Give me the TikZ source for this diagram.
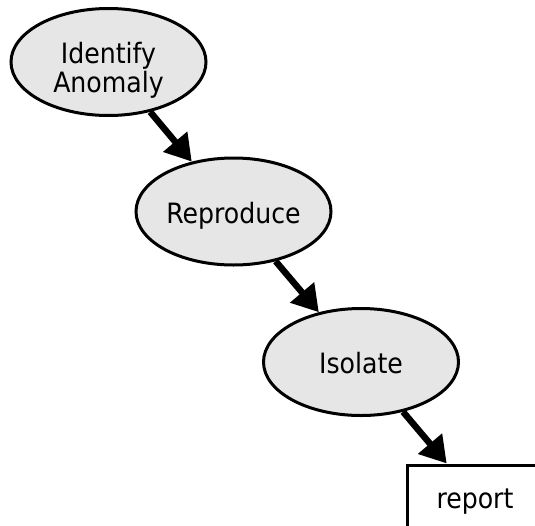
\documentclass[tikz,border=0pt]{standalone}
\usepackage{fontspec}
\setmainfont{DejaVu Sans Condensed}
\usetikzlibrary{shapes.geometric,arrows.meta}
\definecolor{nodefill}{RGB}{230,230,230}
\tikzset{
  stepell/.style={ellipse, draw=black, line width=3pt, fill=nodefill,
    minimum width=195pt, minimum height=107pt, inner sep=0pt,
    font=\fontsize{28}{29}\selectfont, align=center,
    text height=29pt, text depth=6pt},
  reportbox/.style={rectangle, draw=black, line width=3pt, fill=white,
    minimum width=136pt, minimum height=64pt, inner sep=0pt,
    font=\fontsize{28}{29}\selectfont, text height=29pt, text depth=6pt},
  flow/.style={line width=6.5pt, -{Triangle[length=26pt,width=30pt]}}
}
\begin{document}
\begin{tikzpicture}[x=1pt,y=-1pt]
\useasboundingbox (0,0) rectangle (535,525);
\node[stepell, text height=67pt, text depth=7pt] (identify) at (108.5,62) {Identify\\Anomaly};
\node[stepell] (reproduce) at (233.5,211.5) {Reproduce};
\node[stepell] (isolate) at (361,362) {Isolate};
\node[reportbox] (report) at (475,497) {report};
\draw[flow] (identify) -- (reproduce);
\draw[flow] (reproduce) -- (isolate);
\draw[flow] (isolate) -- (report);
\end{tikzpicture}
\end{document}
